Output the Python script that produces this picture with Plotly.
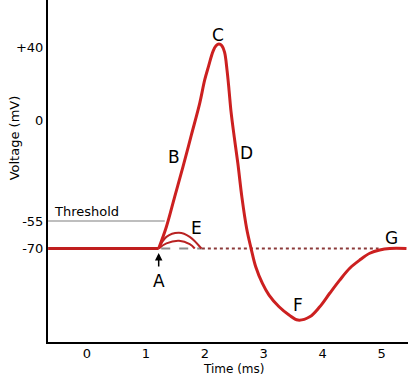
import plotly.graph_objects as go

# ---- data (schematic action potential) ----
rest_t = [-0.66, 1.217]
rest_v = [-70, -70]

ap_t = [1.217, 1.348, 1.489, 1.630, 1.772, 1.913, 1.998, 2.065, 2.139, 2.190, 2.240,
        2.290, 2.335, 2.377, 2.411, 2.445, 2.500, 2.560, 2.630, 2.710, 2.785, 2.864,
        2.978, 3.090, 3.260, 3.430, 3.580, 3.781, 3.951, 4.120, 4.290, 4.460, 4.630,
        4.800, 4.969, 5.139, 5.423]
ap_v = [-70, -58.1, -41.6, -25.2, -7.8, 9.5, 22.3, 30.0, 38.0, 41.0, 42.0,
        41.0, 37.5, 27.7, 16.8, 5.0, -9.0, -23.2, -42.0, -59.0, -69.9, -80.0,
        -89.1, -95.5, -101.9, -106.4, -109.2, -107.4, -101.9, -94.5, -87.3, -80.8, -76.3,
        -72.6, -70.8, -70.0, -70.0]

fail1_t = [1.217, 1.348, 1.562, 1.744, 1.942]
fail1_v = [-70, -63.6, -61.4, -63.6, -70]
fail2_t = [1.217, 1.348, 1.562, 1.744, 1.829]
fail2_v = [-70, -67.2, -65.8, -67.6, -70]

threshold_t = [-0.66, 1.32]
threshold_v = [-55, -55]

dash1_t = [1.26, 1.95]
dash2_t = [1.95, 4.95]
dash_v = [-70, -70]

x_ticks = [0, 1, 2, 3, 4, 5]
y_ticks = [40, 0, -55, -70]
y_ticktext = ["+40", "0", "-55", "-70"]

point_labels = ["B", "C", "D", "E", "F", "G"]
label_t = [1.471, 2.224, 2.706, 1.857, 3.582, 5.168]
label_v = [-19.7, 47.0, -17.7, -59.0, -101.0, -64.4]

RED = "#cc2020"
FONT = "DejaVu Sans"

fig = go.Figure()
fig.add_trace(go.Scatter(x=threshold_t, y=threshold_v, mode="lines",
                         line=dict(color="#a8a8a8", width=1.5), hoverinfo="skip"))
fig.add_trace(go.Scatter(x=dash1_t, y=dash_v, mode="lines",
                         line=dict(color="#8c8c8c", width=2, dash="dash"), hoverinfo="skip"))
fig.add_trace(go.Scatter(x=dash2_t, y=dash_v, mode="lines",
                         line=dict(color="#8b3a3a", width=2, dash="dot"), hoverinfo="skip"))
fig.add_trace(go.Scatter(x=fail1_t, y=fail1_v, mode="lines", line_shape="spline",
                         line=dict(color="#b82222", width=2), hoverinfo="skip"))
fig.add_trace(go.Scatter(x=fail2_t, y=fail2_v, mode="lines", line_shape="spline",
                         line=dict(color="#b82222", width=2), hoverinfo="skip"))
fig.add_trace(go.Scatter(x=rest_t, y=rest_v, mode="lines",
                         line=dict(color="#c01e1e", width=3), hoverinfo="skip"))
fig.add_trace(go.Scatter(x=ap_t, y=ap_v, mode="lines", line_shape="spline",
                         line=dict(color=RED, width=3, smoothing=1.0), hoverinfo="skip"))

for lab, t, v in zip(point_labels, label_t, label_v):
    fig.add_annotation(x=t, y=v, text=lab, showarrow=False,
                       font=dict(family=FONT, size=17, color="black"))

# Arrow at A
fig.add_annotation(x=1.217, y=-72.5, ax=0, ay=15, text="", showarrow=True,
                   arrowhead=2, arrowsize=1, arrowwidth=1.5, arrowcolor="black")
fig.add_annotation(x=1.217, y=-87.8, text="A", showarrow=False,
                   font=dict(family=FONT, size=17, color="black"))

fig.add_annotation(x=-0.6, y=-55, text="Threshold", showarrow=False,
                   xanchor="left", yanchor="bottom",
                   font=dict(family=FONT, size=13, color="black"))

# Axis titles
fig.add_annotation(xref="paper", yref="paper", x=-0.094, y=0.596, text="Voltage (mV)",
                   textangle=-90, showarrow=False, xanchor="center", yanchor="middle",
                   font=dict(family=FONT, size=13, color="black"))
fig.add_annotation(xref="paper", yref="paper", x=0.517, y=-0.0556, yanchor="top",
                   xanchor="center", text="Time (ms)", showarrow=False, borderpad=0,
                   font=dict(family=FONT, size=12, color="black"))

fig.update_layout(
    width=420, height=376,
    margin=dict(l=48, r=12, t=0, b=34),
    paper_bgcolor="white", plot_bgcolor="white",
    showlegend=False,
    font=dict(family=FONT, size=13, color="black"),
    xaxis=dict(range=[-0.662, 5.449], tickvals=x_ticks, ticks="", showgrid=False,
               zeroline=False, showline=True, linecolor="black", linewidth=2,
               automargin=False, ticklabelstandoff=-2,
               tickfont=dict(family=FONT, size=13, color="black"), fixedrange=True),
    yaxis=dict(range=[-121.2, 66.1], tickvals=y_ticks, ticktext=y_ticktext, ticks="",
               showgrid=False, zeroline=False, showline=True, linecolor="black",
               linewidth=2, automargin=False,
               tickfont=dict(family=FONT, size=13, color="black"),
               fixedrange=True),
)

fig.write_html("out.html", config={"displayModeBar": False},
               post_script="document.body.style.margin='0px';")
